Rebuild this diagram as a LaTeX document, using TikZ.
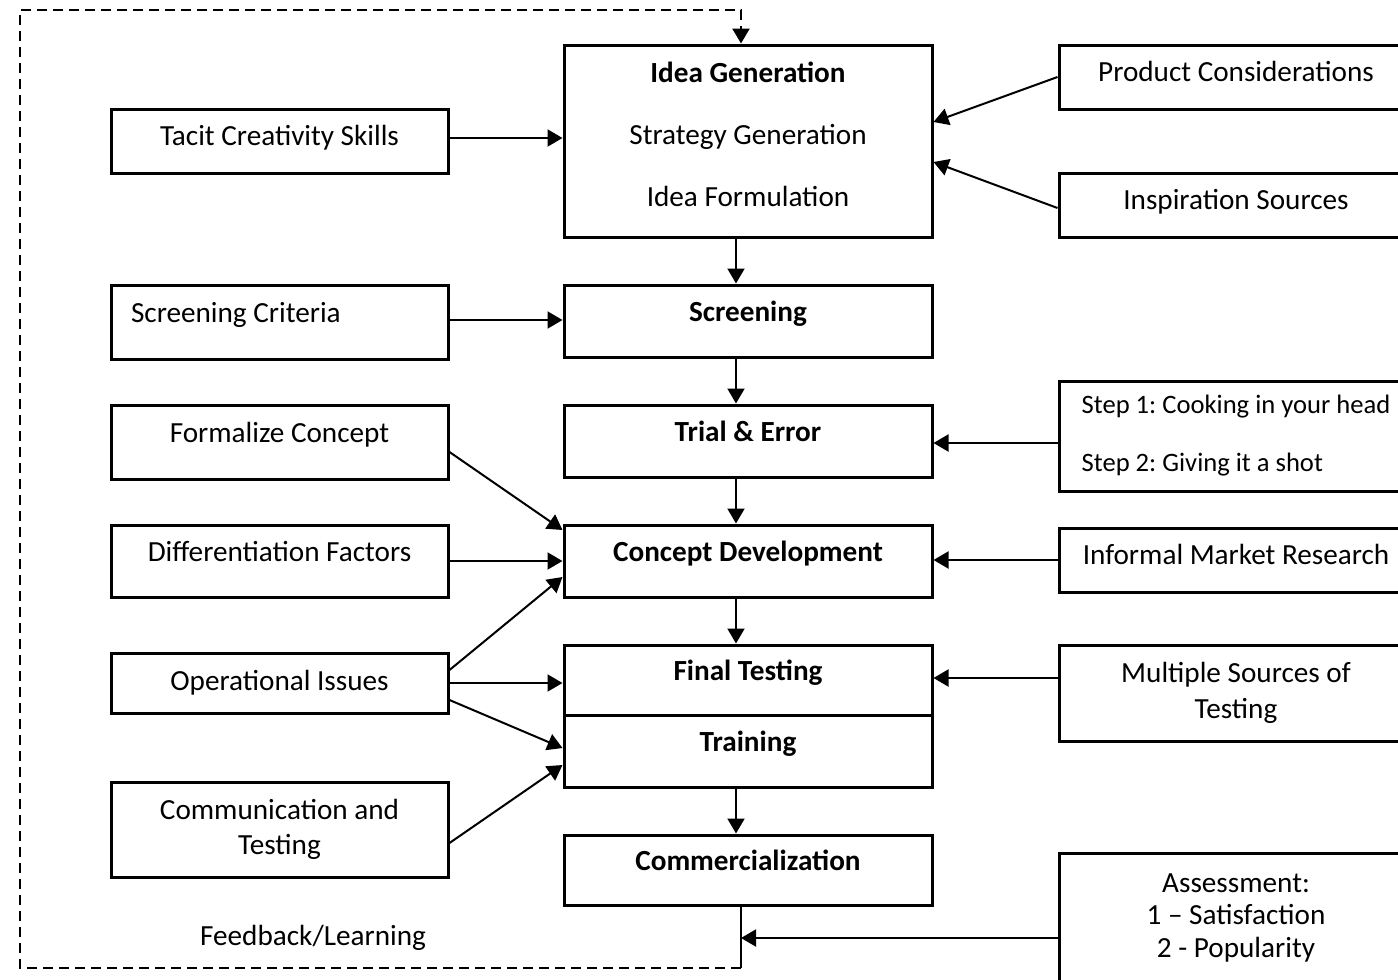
\documentclass[tikz,border=0pt]{standalone}
\usepackage{fontspec}
\setmainfont{Carlito}
\usetikzlibrary{arrows.meta}
\frenchspacing

\begin{document}
\fontsize{14.6pt}{17.5pt}\selectfont
\begin{tikzpicture}[x=0.5pt,y=-0.5pt,line width=1pt,
  >={Triangle[length=7.5pt,width=8.5pt]},
  box/.style={draw,line width=1.5pt,inner sep=0pt,align=center},
  raised/.style={text height=9pt,text depth=8.2pt},
  lifted/.style={text height=9pt,text depth=4.2pt},
  stage/.style={box,raised,minimum width=184pt,minimum height=36pt,font=\bfseries},
  input/.style={box,minimum width=168.5pt},
  source/.style={box,minimum width=177pt},
  fbline/.style={line width=1.3pt,dash pattern=on 5pt off 3pt}]
\clip (0,0) rectangle (1398,980);
% middle column
\node[box,minimum width=184pt,minimum height=96pt] (idea) at (748,141)
  {\textbf{Idea Generation}\\[13.5pt]Strategy Generation\\[13.5pt]Idea Formulation\rule[-7pt]{0pt}{0pt}};
\node[stage] (screen) at (748,321) {Screening};
\node[stage] (trial) at (748,441) {Trial \& Error};
\node[stage] (concept) at (748,561) {Concept Development};
\node[stage,minimum height=35pt] (final) at (748,680) {Final Testing};
\node[stage] (train) at (748,751) {Training};
\node[stage,minimum height=35pt] (comm) at (748,870) {Commercialization};
% left column
\node[input,lifted,minimum height=32pt] (tacit) at (279.5,141) {Tacit Creativity Skills};
\node[input,raised,minimum height=37pt,text width=148.5pt,align=flush left] (criteria) at (279.5,322) {Screening Criteria};
\node[input,raised,minimum height=37pt] (formal) at (279.5,442) {Formalize Concept};
\node[input,raised,minimum height=36pt] (diff) at (279.5,561) {Differentiation Factors};
\node[input,minimum height=30pt] (oper) at (279.5,683) {Operational Issues};
\node[input,minimum height=47.5pt] (commtest) at (279.5,829.5) {Communication and\\Testing};
% right column
\node[source,lifted,minimum height=32pt] (prod) at (1236,77) {Product Considerations};
\node[source,lifted,minimum height=32pt] (insp) at (1236,205) {Inspiration Sources};
\node[source,minimum height=55pt,align=flush left,font=\fontsize{13.3pt}{29pt}\selectfont] (step) at (1236,436)
  {Step 1: Cooking in your head\\Step 2: Giving it a shot};
\node[source,lifted,minimum height=32pt] (market) at (1236,560) {Informal Market Research};
\node[source,minimum height=48pt,font=\fontsize{14.6pt}{18pt}\selectfont] (multi) at (1236,693) {Multiple Sources of\\Testing};
\node[source,minimum height=64.5pt,font=\fontsize{14.6pt}{16.25pt}\selectfont] (assess) at (1236,917.5)
  {Assessment:\\1 -- Satisfaction\\2 - Popularity};
\node (fblabel) at (313,938) {Feedback/Learning};
% down the middle
\foreach \a/\b in {idea/screen,screen/trial,trial/concept,concept/final,train/comm}
  \draw[->] ([xshift=-6pt]\a.south) -- ([xshift=-6pt]\b.north);
% inputs from the left
\draw[->] ([yshift=1.5pt]tacit.east) -- ([yshift=1.5pt]tacit.east -| idea.west);
\draw[->] ([yshift=1pt]criteria.east) -- ([yshift=1pt]criteria.east -| screen.west);
\draw[->] ([yshift=-5pt]formal.east) -- ([yshift=15.5pt]concept.west);
\draw[->] (diff.east) -- (concept.west);
\draw[->] ([yshift=6.5pt]oper.east) -- ([yshift=-8pt]concept.west);
\draw[->] (oper.east) -- (oper.east -| final.west);
\draw[->] ([yshift=-8.5pt]oper.east) -- ([yshift=1.5pt]train.west);
\draw[->] ([yshift=-6.75pt]commtest.east) -- ([yshift=-7pt]train.west);
% inputs from the right
\draw[->] (prod.west) -- ([yshift=9.5pt]idea.east);
\draw[->] ([yshift=-1.5pt]insp.west) -- ([yshift=-10.5pt]idea.east);
\draw[->] ([yshift=-3.5pt]step.west) -- ([yshift=-3.5pt]step.west -| trial.east);
\draw[->] (market.west) -- (market.west -| concept.east);
\draw[->] ([yshift=7.5pt]multi.west) -- ([yshift=7.5pt]multi.west -| final.east);
% feedback loop
\coordinate (fb) at (741,938);
\coordinate (fbend) at (741,968);
\coordinate (fbtop) at (741,10);
\draw (comm.south -| fb) -- (fbend);
\draw[->] ([yshift=-10.25pt]assess.west) -- (fb);
\draw[fbline,->] (fbend) -- (20,968) -- (20,10) -- (fbtop) -- (idea.north -| fb);
\end{tikzpicture}
\end{document}
